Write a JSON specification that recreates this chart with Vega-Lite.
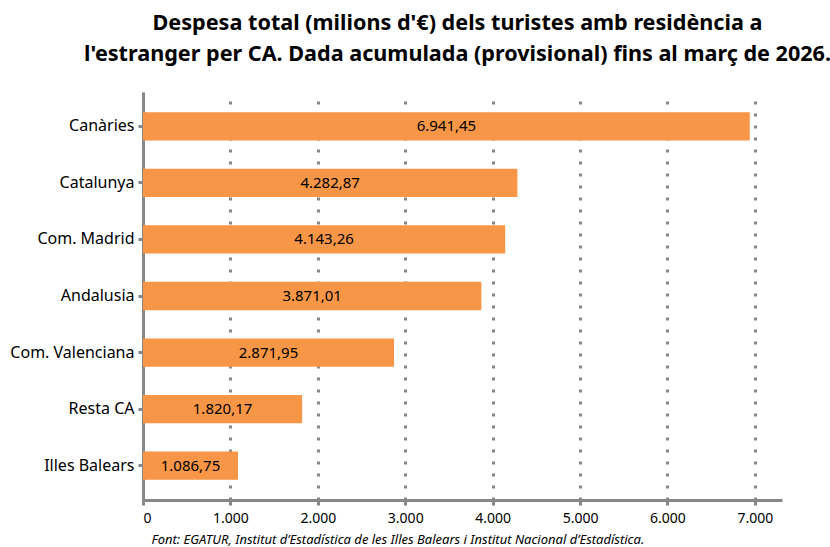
{
  "$schema": "https://vega.github.io/schema/vega-lite/v6.json",
  "width": 639,
  "height": 408,
  "autosize": {"type": "none"},
  "padding": {"left": 143, "top": 92, "right": 48, "bottom": 47},
  "config": {
    "font": "Noto Sans",
    "view": {"stroke": null},
    "locale": {
      "number": {"decimal": ",", "thousands": ".", "grouping": [3], "currency": ["", " €"]}
    }
  },
  "title": {
    "text": ["Despesa total (milions d'€) dels turistes amb residència a", "l'estranger per CA. Dada acumulada (provisional) fins al març de 2026."],
    "fontSize": 21.6,
    "fontWeight": "bold",
    "color": "#000000",
    "lineHeight": 31,
    "anchor": "middle",
    "baseline": "top",
    "offset": 26,
    "dx": -5
  },
  "data": {
    "values": [
      {"ca": "Canàries", "valor": 6941.45},
      {"ca": "Catalunya", "valor": 4282.87},
      {"ca": "Com. Madrid", "valor": 4143.26},
      {"ca": "Andalusia", "valor": 3871.01},
      {"ca": "Com. Valenciana", "valor": 2871.95},
      {"ca": "Resta CA", "valor": 1820.17},
      {"ca": "Illes Balears", "valor": 1086.75}
    ]
  },
  "encoding": {
    "y": {
      "field": "ca",
      "type": "nominal",
      "sort": {"field": "valor", "order": "descending"},
      "scale": {"paddingInner": 0.5, "paddingOuter": 0.36},
      "axis": {
        "title": null,
        "labelFontSize": 16,
        "labelColor": "#000000",
        "labelPadding": 4,
        "domainColor": "#888888",
        "domainWidth": 3,
        "tickColor": "#888888",
        "tickWidth": 3,
        "tickSize": 5,
        "grid": false
      }
    }
  },
  "layer": [
    {
      "mark": {"type": "bar", "color": "#F79646"},
      "encoding": {
        "x": {
          "field": "valor",
          "type": "quantitative",
          "scale": {"domain": [0, 7310], "nice": false},
          "axis": {
            "title": "Font: EGATUR, Institut d’Estadística de les Illes Balears i Institut Nacional d’Estadística.",
            "titleFontSize": 13,
            "titleFontStyle": "italic",
            "titleFontWeight": "normal",
            "titleColor": "#000000",
            "titleAnchor": "start",
            "titleAlign": "left",
            "titleX": 8,
            "titlePadding": 8,
            "values": [0, 1000, 2000, 3000, 4000, 5000, 6000, 7000],
            "format": ",d",
            "labelFontSize": 14,
            "labelColor": "#000000",
            "labelPadding": 6,
            "domainColor": "#888888",
            "domainWidth": 3,
            "tickColor": "#888888",
            "tickWidth": 3,
            "tickSize": 5,
            "grid": true,
            "gridColor": "#888888",
            "gridWidth": 3,
            "gridDash": [3, 9]
          }
        }
      }
    },
    {
      "mark": {"type": "text", "fontSize": 15, "color": "#000000", "align": "center", "baseline": "middle"},
      "encoding": {
        "x": {"field": "valor", "type": "quantitative", "scale": {"domain": [0, 14620], "nice": false}, "axis": null},
        "text": {"field": "valor", "type": "quantitative", "format": ",.2f"}
      }
    }
  ],
  "resolve": {"scale": {"x": "independent"}}
}
